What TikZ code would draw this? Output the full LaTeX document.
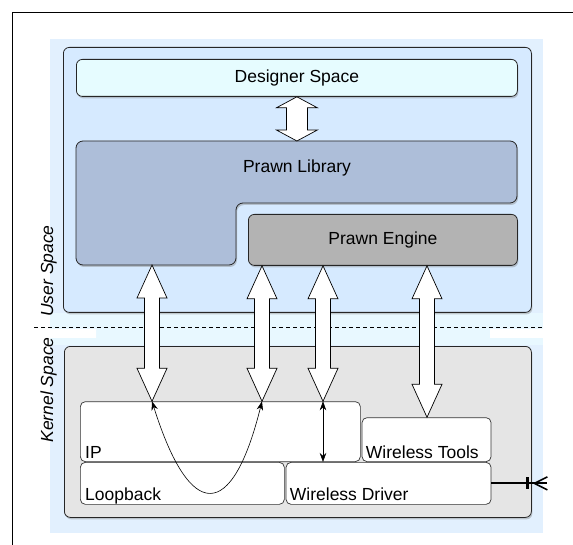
\documentclass[tikz,border=0pt]{standalone}
\usepackage{fontspec}
\setmainfont{Liberation Sans}
\usetikzlibrary{arrows.meta,positioning,calc,shadows}

\definecolor{glow}{HTML}{E2F0FE}
\definecolor{gapblue}{HTML}{E8F8FF}
\definecolor{userblue}{HTML}{D6EAFF}
\definecolor{designercyan}{HTML}{E6FCFF}
\definecolor{librarycol}{HTML}{ADBED9}
\definecolor{enginegray}{HTML}{B3B3B3}
\definecolor{kernelgray}{HTML}{E5E5E5}

\newcommand\fatarrow[5]{%
  \draw[fat] let \p1=(#1), \p2=(#2) in
    (\x1,\y1) -- (\x1+#3pt,\y1-#5pt) -- (\x1+#4pt,\y1-#5pt) -- (\x1+#4pt,\y2+#5pt)
    -- (\x1+#3pt,\y2+#5pt) -- (\x1,\y2) -- (\x1-#3pt,\y2+#5pt) -- (\x1-#4pt,\y2+#5pt)
    -- (\x1-#4pt,\y1-#5pt) -- (\x1-#3pt,\y1-#5pt) -- cycle;}

\begin{document}
\begin{tikzpicture}[x=1pt,y=-1pt,>={Stealth[length=9pt,width=6.5pt]},
  every node/.style={font=\fontsize{17.5}{21}\selectfont},
  box/.style={draw=black!85,line width=0.8pt,rounded corners=6pt,inner sep=0pt,
    drop shadow={shadow xshift=1pt,shadow yshift=-2pt,opacity=0.4}},
  wbox/.style={draw=black!80,line width=0.7pt,rounded corners=5pt,fill=white,inner sep=0pt},
  fat/.style={draw=black,line width=0.7pt,fill=white,line join=miter},
  lbl/.style={inner sep=0pt,anchor=base west},
  side/.style={inner sep=0pt,anchor=base,rotate=90,font=\fontsize{17.5}{21}\selectfont\itshape},
  thinarrow/.style={<->,line width=0.6pt}]
  \useasboundingbox (0,0) rectangle (573,545);
  \draw[line width=0.8pt] (12,545) -- (12,12) -- (573,12);
  \fill[glow] (50,39) rectangle (543,533);
  \fill[gapblue] (50,313) rectangle (543,345);
  \fill[white] (50,329) rectangle (96,338) (490,329) rectangle (543,338);

  \node (user) [box, fill=userblue, minimum width=468, minimum height=265, anchor=north west] at (63,47) {};
  \node (designer) [box, fill=designercyan, minimum width=441, minimum height=37, anchor=north west] at (76,59) {Designer Space};
  \draw[box, fill=librarycol, rounded corners=7pt] (76,141) -- (517,141) -- (517,203) -- (236,203) -- (236,265) -- (76,265) -- cycle;
  \node (library) [anchor=base] at (297,173) {Prawn Library};
  \node (engine) [box, fill=enginegray, minimum width=269, minimum height=51, anchor=north west] at (248,214) {Prawn Engine};

  \node (kernel) [box, fill=kernelgray, minimum width=467, minimum height=171, anchor=north west] at (64,346) {};
  \node (loop) [wbox, minimum width=204, minimum height=42, anchor=north west] at (80,462) {};
  \node (driver) [wbox, minimum width=205, minimum height=42, right=1pt of loop] {};
  \node (ip) [wbox, minimum width=280, minimum height=60, above right=0pt and 0pt of loop.north west] {};
  \node (tools) [wbox, minimum width=129, minimum height=44, above left=0pt and 0pt of driver.north east] {};

  \node (iplabel) [lbl] at ($(ip.south west)+(5,-4)$) {IP};
  \node (looplabel) [lbl] at ($(loop.south west)+(5,-4)$) {Loopback};
  \node (driverlabel) [lbl] at ($(driver.south west)+(4,-4)$) {Wireless Driver};
  \node (toolslabel) [lbl] at ($(tools.south west)+(4,-4)$) {Wireless Tools};
  \node (userlabel) [side] at (53,271) {User Space};
  \node (kernellabel) [side] at (53,390) {Kernel Space};

  \draw[dash pattern=on 4pt off 3pt, line width=0.6pt] (34,327) -- (543,327);

  \coordinate (libtop) at (297,141);
  \coordinate (libfoot) at (152,265);
  \coordinate (engA) at ($(engine.south west)+(14,0)$);
  \coordinate (engB) at ($(engine.south west)+(75,0)$);
  \coordinate (engC) at ($(engine.south west)+(179,0)$);
  \coordinate (ipA) at ($(ip.north west)+(72,0)$);
  \coordinate (ipB) at ($(ip.north west)+(182,0)$);
  \coordinate (ipC) at ($(ip.north west)+(243,0)$);
  \coordinate (toolsA) at ($(tools.north west)+(66,0)$);
  \fatarrow{designer.south}{libtop}{20.5}{10.5}{11}
  \fatarrow{libfoot}{ipA}{15}{7.5}{33}
  \fatarrow{engA}{ipB}{15}{7.5}{33}
  \fatarrow{engB}{ipC}{15}{7.5}{33}
  \fatarrow{engC}{toolsA}{15}{7.5}{33}

  \draw[thinarrow] (ipA) .. controls +(38,121) and +(-30,121) .. (ipB);
  \draw[thinarrow] (ipC) -- (ipC |- ip.south);

  \coordinate (plug) at ($(driver.east)+(56,0)$);
  \draw[line width=2pt] (driver.east) -- (plug);
  \draw[line width=3pt] ($(plug)+(-19.5,-6)$) -- ($(plug)+(-19.5,6)$);
  \draw[line width=1.6pt] ($(plug)+(0,-6.5)$) -- ($(plug)+(-13,0)$) -- ($(plug)+(0,6.5)$);
\end{tikzpicture}
\end{document}
